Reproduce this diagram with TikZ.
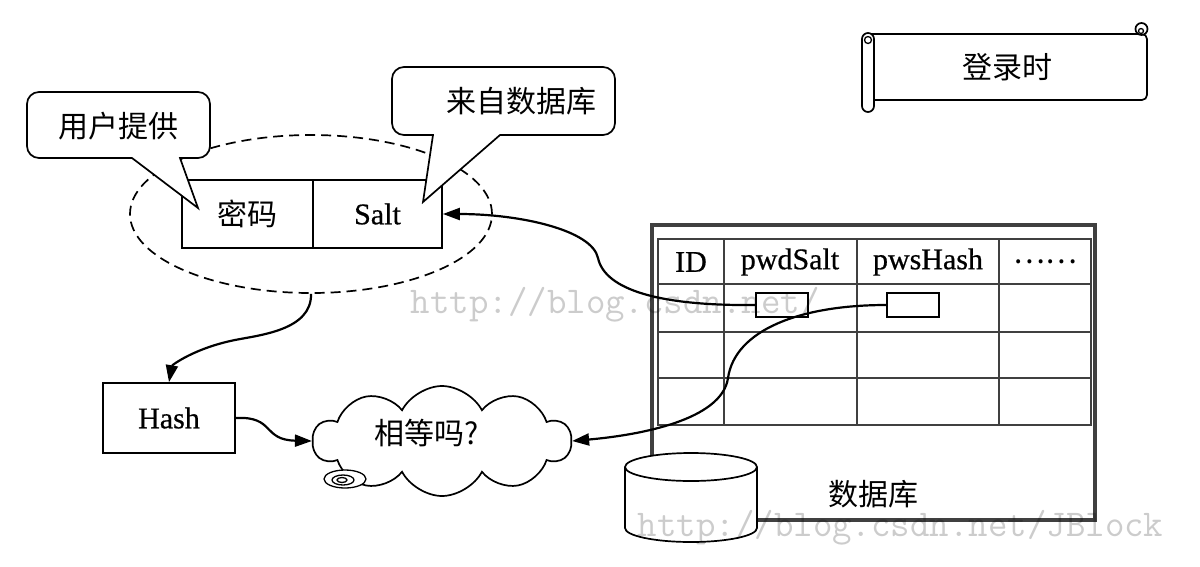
\documentclass[tikz,border=0pt]{standalone}
\usepackage{fontspec}
\setmainfont{Liberation Serif}[FakeBold=0.6]
\newfontfamily\cjk{Noto Sans CJK SC}
\usetikzlibrary{shapes.geometric,shapes.symbols,arrows.meta}
\begin{document}
\begin{tikzpicture}[x=1pt,y=-1pt,line width=1.7pt,
    font=\fontsize{30}{34}\selectfont,
    cell/.style={draw,minimum width=#1,minimum height=68pt,inner sep=0pt},
    bubble/.style={draw,fill=white},
    link/.style={line width=2.2pt,-{Triangle[length=17pt,width=12pt]}},
    tbl/.style={draw=black!75,line width=1.6pt},
    smallcell/.style={draw,minimum width=52pt,minimum height=24pt,inner sep=0pt},
    watermark/.style={font=\ttfamily\fontsize{37.8}{40}\selectfont,text=black,
      text opacity=.2,anchor=base west,inner sep=0pt}]
  \path[fill=white] (0,0) rectangle (1200,566);
  \useasboundingbox (0,0) rectangle (1200,566);

  % scroll
  \draw[fill=white,rounded corners=5pt] (870,34) -- (1147,34) -- (1147,100) -- (870,100);
  \draw[fill=white] (1141.5,29) circle[radius=6];
  \draw[line width=1.3pt] (1141,31) circle[radius=2.5];
  \draw[fill=white,rounded corners=6pt] (862,33) rectangle (874,112);
  \draw[line width=1.3pt] (868,40) circle[radius=3.5];
  \node (when) at (1007,67) {\cjk 登录时};

  % password + salt
  \node[ellipse,draw,dash pattern=on 10pt off 6pt,minimum width=362pt,
    minimum height=158pt,inner sep=0pt] (grp) at (311,214) {};
  \node[cell=131pt] (pwd) at (247.5,214) {\cjk 密码};
  \node[cell=129pt] (salt) at (377.5,214) {Salt};
  \draw[bubble] (132,158) -- (198,208) -- (180,158) [rounded corners=12pt]
    -- (210,158) -- (210,92) -- (27,92) -- (27,158) -- (100,158) [sharp corners] -- cycle;
  \node (user) at (118,126) {\cjk 用户提供};
  \draw[bubble] (500,135) -- (423,202) -- (433,135) [rounded corners=12pt]
    -- (392,135) -- (392,67) -- (615,67) -- (615,135) -- (540,135) [sharp corners] -- cycle;
  \node (fromdb) at (521,101) {\cjk 来自数据库};

  % hash and compare
  \node[draw,minimum width=132pt,minimum height=70pt] (hash) at (169,418) {Hash};
  \node[cloud,draw,cloud puffs=10,cloud puff arc=125,aspect=2.3,
    minimum width=258pt,minimum height=110pt,inner sep=0pt] (cmp) at (442,441) {};
  \node (ask) at (427,433) {\cjk 相等吗?};
  \draw[fill=white,line width=1.3pt] (345,479) ellipse[x radius=21,y radius=9];
  \draw[line width=1.3pt] (343,480) ellipse[x radius=11,y radius=5];
  \draw[line width=1.3pt] (342,480) ellipse[x radius=5,y radius=2.5];

  % database
  \draw[draw=black!75,line width=3.2pt] (652,225) rectangle (1095,520);
  \draw[tbl] (658,239) rectangle (1091,425);
  \foreach \y in {284,332,378}
    \draw[tbl] (658,\y) -- (1091,\y);
  \foreach \x in {724,857,999}
    \draw[tbl] (\x,239) -- (\x,425);
  \node (colid) at (691,262) {ID};
  \node (colsalt) at (790,262) {pwdSalt};
  \node (colhash) at (928,262) {pwsHash};
  \node (colmore) at (1045,262) {\cjk ……};
  \node[smallcell] (saltval) at (782,305) {};
  \node[smallcell] (hashval) at (913,305) {};
  \node (dbname) at (873,494) {\cjk 数据库};
  \draw[fill=white] (691,528) ellipse[x radius=66,y radius=14];
  \fill[white] (625,467) rectangle (757,528);
  \draw (625,467) -- (625,528) (757,467) -- (757,528);
  \draw[fill=white] (691,467) ellipse[x radius=66,y radius=14];

  % connectors
  \draw[link] (saltval.west) .. controls (660,306) and (605,290) .. (598,258)
    .. controls (592,230) and (520,214) .. (salt.east);
  \draw[link] (hashval.west) .. controls (800,305) and (735,330) .. (728,378)
    .. controls (722,420) and (640,435) .. (cmp.east);
  \draw[link] (grp.south) .. controls (312,330) and (260,335) .. (235,340)
    .. controls (195,348) and (172,365) .. (hash.north);
  \draw[link] (hash.east) .. controls (275,416) and (262,440) .. (cmp.west);

  \node[watermark] (wm1) at (410,313) {http://blog.csdn.net/};
  \node[watermark] (wm2) at (637,536) {http://blog.csdn.net/JBlock};
\end{tikzpicture}
\end{document}
